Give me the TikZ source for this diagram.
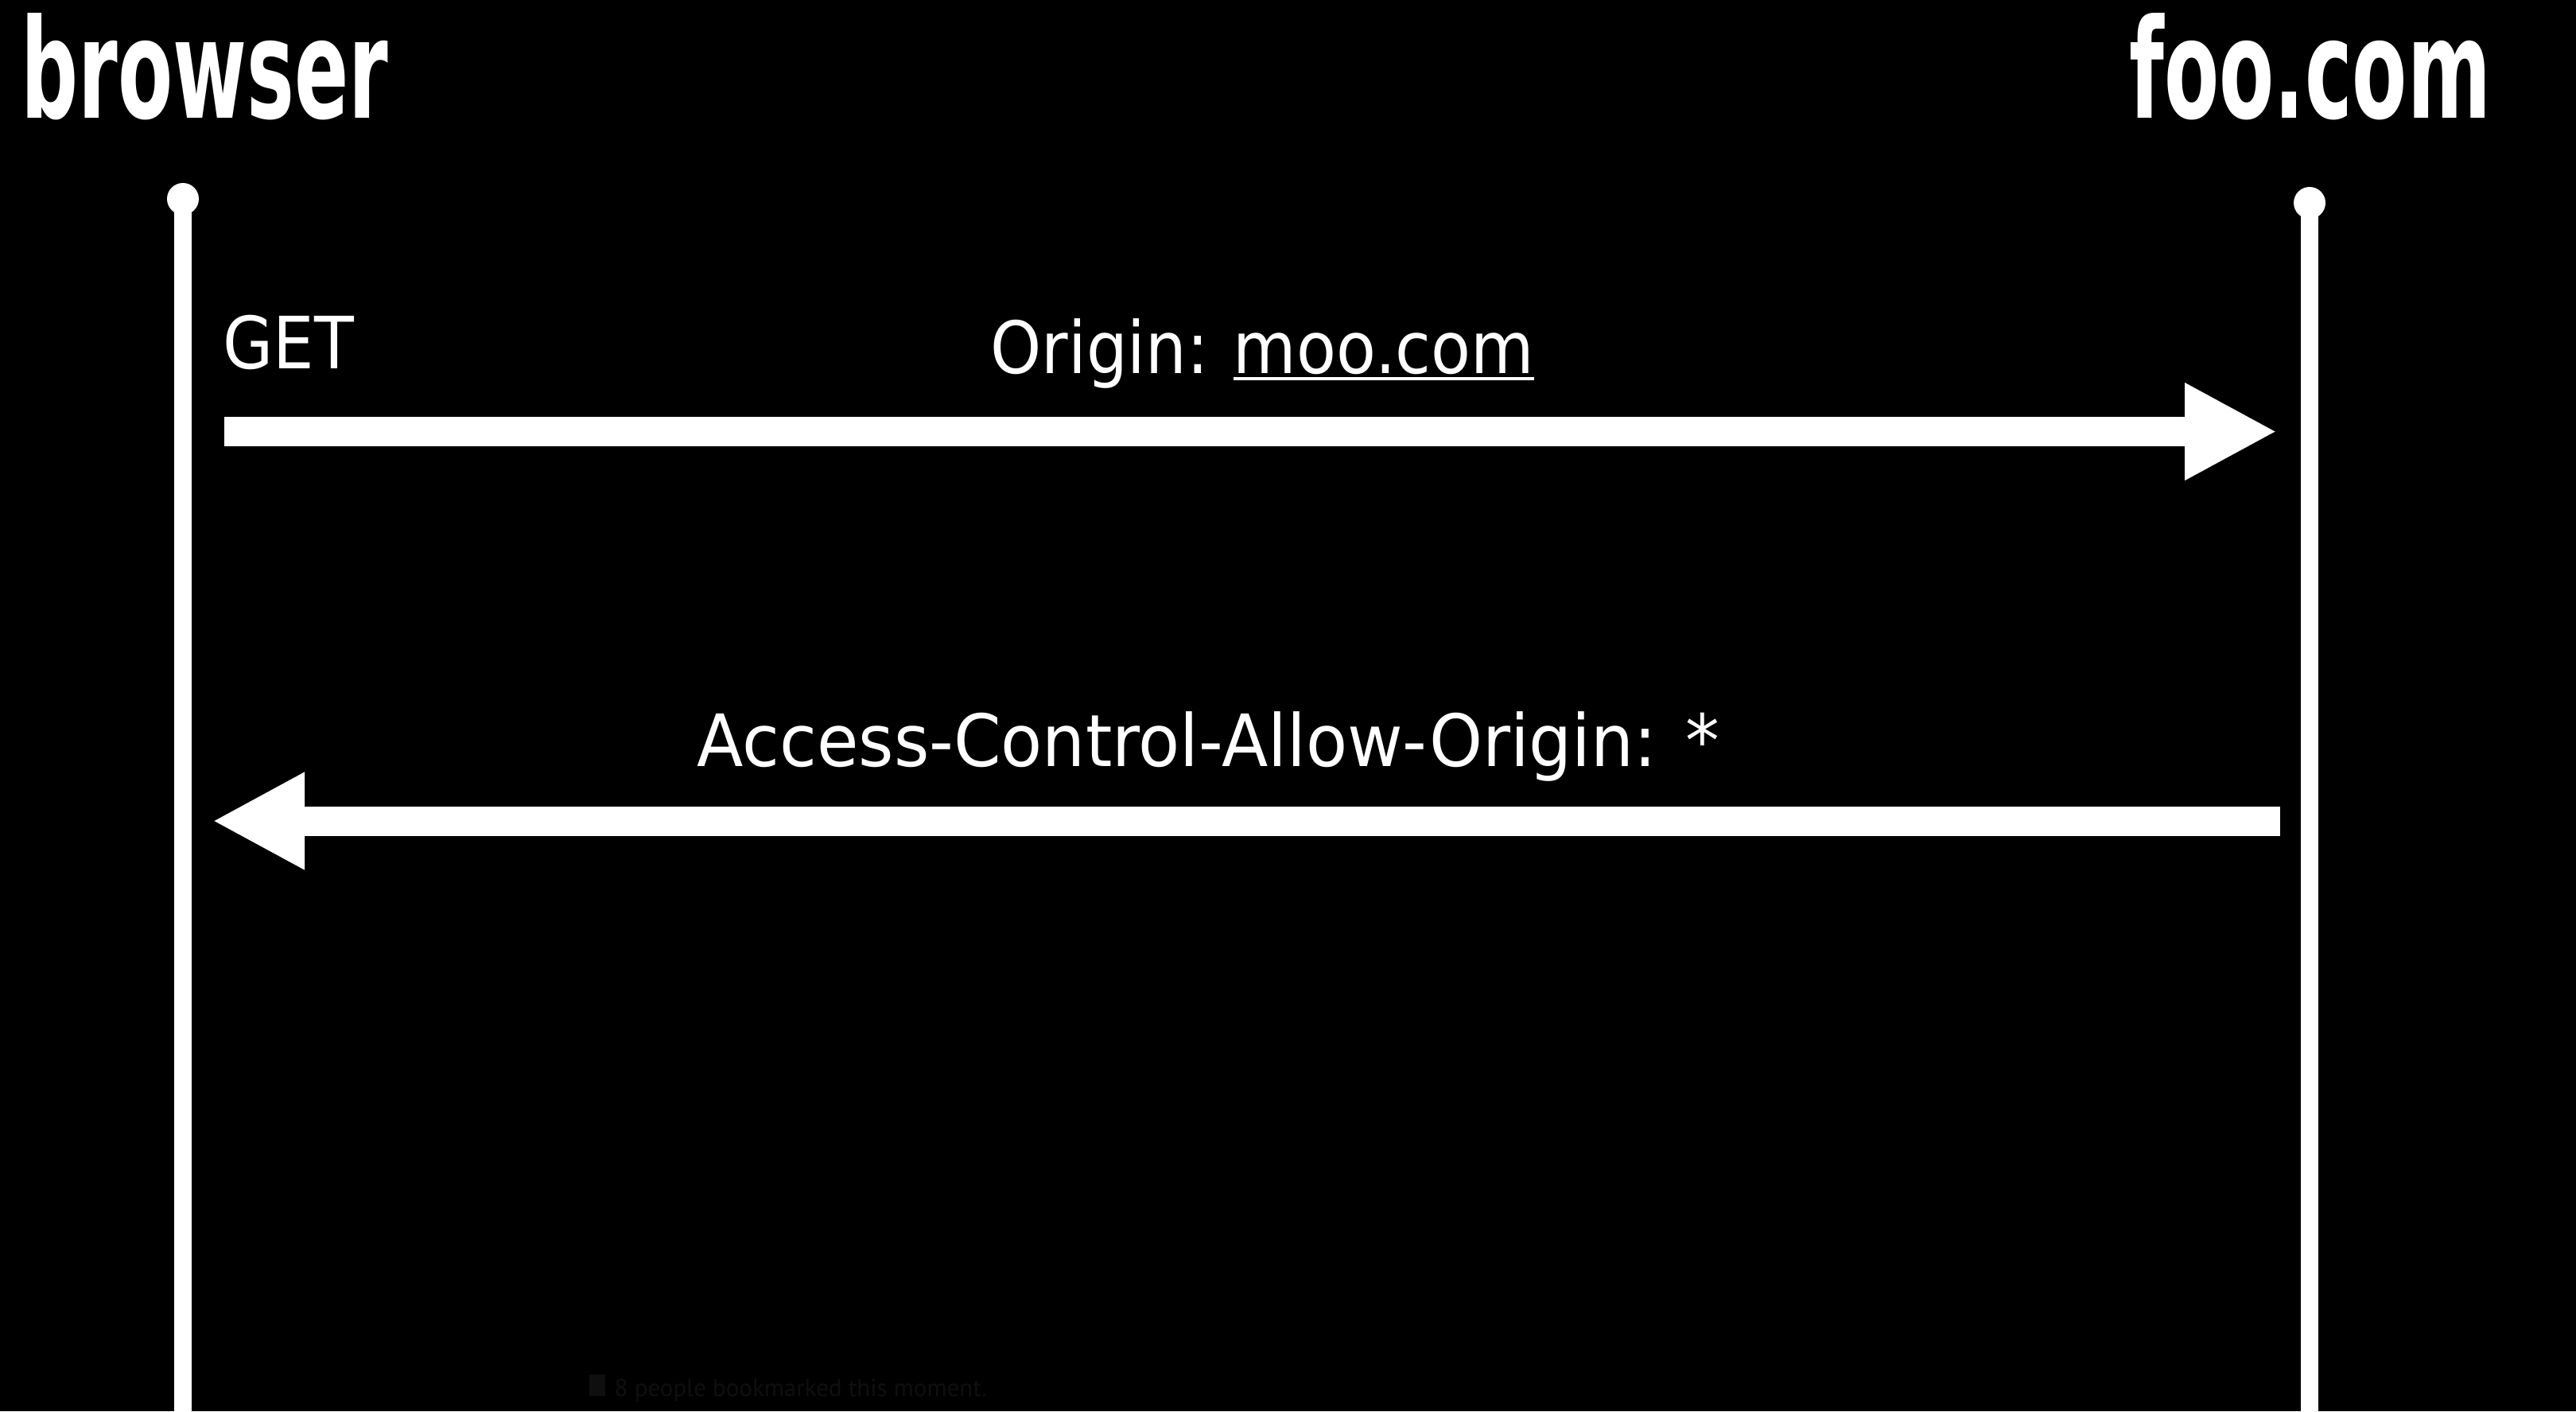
\documentclass[tikz,border=0pt]{standalone}
\usepackage{fontspec}
\usepackage{tikz}
\usetikzlibrary{arrows.meta}

\newfontfamily\headfont[FakeStretch=0.58]{DejaVu Sans}
\newfontfamily\msgfont[FakeStretch=0.9]{DejaVu Sans}
\newfontfamily\widemsgfont[FakeStretch=0.94]{DejaVu Sans}
\newfontfamily\notefont{PT Sans}
\newlength{\ulwd}
\newcommand{\ulink}[1]{\settowidth{\ulwd}{#1}\rlap{#1}\rule[-2.6pt]{\ulwd}{1.3pt}}

\begin{document}
\begin{tikzpicture}[
    party/.style={
      text=white, inner sep=0pt, anchor=base west,
      font=\headfont\bfseries\fontsize{49.4}{50}\selectfont
    },
    lbl/.style={
      text=white, inner sep=0pt, anchor=base west,
      font=\msgfont\fontsize{25.8}{27}\selectfont
    },
    note/.style={
      text=black!94!white, inner sep=0pt, anchor=base west,
      font=\notefont\fontsize{8.8}{10}\selectfont
    },
    life/.style={draw=white, line width=2.2mm},
    msg/.style={-{Triangle[length=11.6mm 0, width=11.4mm 0]}, white, line width=3.7mm},
  ]
    \useasboundingbox (0,0) rectangle (32.39,-17.74);
    \fill[black] (0,0) rectangle (32.39,-17.74);

    \node[party] (browser) at (0.26,-1.48) {browser};
    \node[party] (foo) at (26.77,-1.48) {foo.com};

    % lifelines
    \coordinate (b-top) at (2.30,-2.50);
    \coordinate (b-end) at (2.30,-17.74);
    \coordinate (f-top) at (29.04,-2.55);
    \coordinate (f-end) at (29.04,-17.74);
    \draw[life] (b-top) -- (b-end);
    \draw[life] (f-top) -- (f-end);
    \fill[white] (b-top) circle (2mm);
    \fill[white] (f-top) circle (2mm);

    % request
    \coordinate (get-from) at (2.82,-5.425);
    \coordinate (get-to) at (28.63,-5.425);
    \node[lbl] (get) at (2.80,-4.63) {GET};
    \node[lbl] (origin) at (12.45,-4.69) {Origin:\hspace{-1pt} \ulink{moo.com}};
    \draw[msg] (get-from) -- (get-to);

    % response
    \coordinate (acao-from) at (28.67,-10.32);
    \coordinate (acao-to) at (2.67,-10.32);
    \node[lbl, font=\widemsgfont\fontsize{25.8}{27}\selectfont] (acao) at (8.76,-9.63) {Access-Control-Allow-Origin: *};
    \draw[msg] (acao-from) -- (acao-to);

    \node[note] (marks) at (7.40,-17.55) {\rule{0.2cm}{0.27cm}\hspace{0.12cm}8 people bookmarked this moment.};
  \end{tikzpicture}
\end{document}
